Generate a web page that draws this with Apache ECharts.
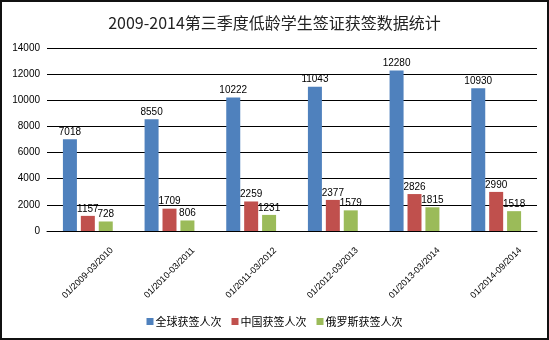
<!DOCTYPE html>
<html>
<head>
<meta charset="utf-8">
<script src="https://cdn.jsdelivr.net/npm/echarts@6/dist/echarts.min.js"></script>
<style>
  html, body { margin: 0; padding: 0; background: #fff; }
  #frame { position: absolute; left: 0; top: 0; width: 545px; height: 336px; border: 2px solid #111; background: #fff; }
  #chart { position: absolute; left: 0; top: 0; width: 549px; height: 340px; }
</style>
</head>
<body>
<div id="frame"></div>
<div id="chart"></div>
<script>
// Periods shown on the category axis
const periods = ['01/2009-03/2010', '01/2010-03/2011', '01/2011-03/2012', '01/2012-03/2013', '01/2013-03/2014', '01/2014-09/2014'];
// Visas granted per period
const globalVisas = [7018, 8550, 10222, 11043, 12280, 10930];
const chinaVisas = [1157, 1709, 2259, 2377, 2826, 2990];
const russiaVisas = [728, 806, 1231, 1579, 1815, 1518];
const seriesNames = ['全球获签人次', '中国获签人次', '俄罗斯获签人次'];
const seriesColors = ['#4F81BD', '#C0504D', '#9BBB59'];
const yTicks = { min: 0, max: 14000, interval: 2000 };

const font = '"Liberation Sans", "Noto Sans CJK SC", sans-serif';
const chart = echarts.init(document.getElementById('chart'), null, { renderer: 'canvas' });

function barSeries(name, data, color) {
  return {
    name: name,
    type: 'bar',
    data: data,
    barWidth: 14,
    barGap: '28%',
    itemStyle: { color: color },
    label: { show: true, position: 'top', distance: 2, color: '#000', fontSize: 10, fontFamily: font }
  };
}

chart.setOption({
  animation: false,
  backgroundColor: 'transparent',
  textStyle: { fontFamily: font },
  title: {
    text: '2009-2014第三季度低龄学生签证获签数据统计',
    left: 'center',
    top: 10,
    textStyle: { fontSize: 16, fontWeight: 'normal', color: '#222', fontFamily: '"Noto Sans CJK SC", sans-serif' }
  },
  legend: {
    bottom: 8,
    left: 'center',
    itemWidth: 7,
    itemHeight: 7,
    itemGap: 10,
    icon: 'rect',
    textStyle: { fontSize: 11, color: '#000', fontFamily: '"Noto Sans CJK SC", sans-serif', padding: [0, 0, 0, -3] },
    data: seriesNames
  },
  grid: { left: 47, right: 12, top: 48, bottom: 109 },
  xAxis: {
    type: 'category',
    data: periods,
    axisLine: { lineStyle: { color: '#000', width: 1 } },
    axisTick: { show: false },
    axisLabel: {
      rotate: 45,
      align: 'center',
      verticalAlign: 'middle',
      margin: 42,
      fontSize: 9,
      color: '#000',
      fontFamily: font
    }
  },
  yAxis: {
    type: 'value',
    min: yTicks.min,
    max: yTicks.max,
    interval: yTicks.interval,
    axisLine: { show: false },
    axisTick: { show: false },
    splitLine: { lineStyle: { color: '#000', width: 1 } },
    axisLabel: { fontSize: 10, color: '#000', margin: 7, fontFamily: font, formatter: function (v) { return String(v); } }
  },
  series: [
    barSeries(seriesNames[0], globalVisas, seriesColors[0]),
    barSeries(seriesNames[1], chinaVisas, seriesColors[1]),
    barSeries(seriesNames[2], russiaVisas, seriesColors[2])
  ]
});
</script>
</body>
</html>
